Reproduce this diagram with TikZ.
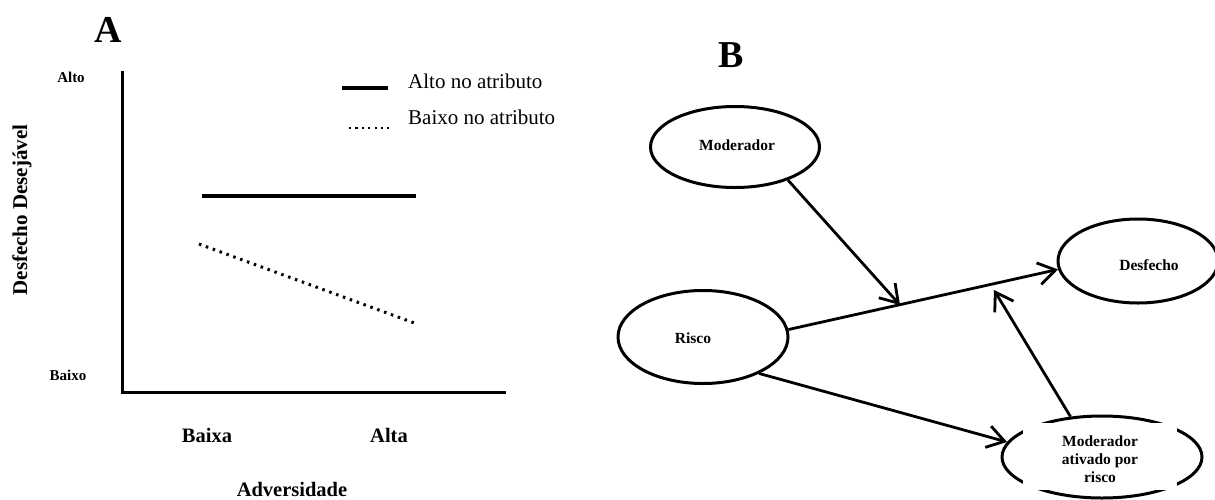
\documentclass[tikz,border=0pt]{standalone}
\usepackage{fontspec}
\setmainfont{Liberation Serif}
\usetikzlibrary{shapes.geometric,arrows.meta}
\begin{document}
\begin{tikzpicture}[x=1pt,y=-1pt,
  title/.style={font=\bfseries\fontsize{38}{40}\selectfont, inner sep=0, anchor=base},
  small/.style={font=\bfseries\fontsize{15}{18}\selectfont, inner sep=0, anchor=base},
  axlbl/.style={font=\bfseries\fontsize{20.5}{24}\selectfont, inner sep=0, anchor=base},
  legtxt/.style={font=\fontsize{21}{24}\selectfont, inner sep=0, anchor=base west},
  axisline/.style={line width=3pt},
  solidser/.style={line width=4pt},
  dotser/.style={line width=3pt, dash pattern=on 2.5pt off 4.8pt},
  oval/.style={ellipse, draw, line width=3pt, inner sep=0},
  ntxt/.style={font=\bfseries\fontsize{15.5}{18}\selectfont, inner sep=0, anchor=base},
  arr/.style={line width=2.8pt, -{Straight Barb[length=17pt,width=22pt,line width=2.8pt]}}
]
\useasboundingbox (0,0) rectangle (1215,499);
% ---------- Panel A ----------
\node[title] (tA) at (108,42) {A};
\coordinate (ytop) at (122,71);
\coordinate (orig) at (122,392);
\coordinate (xend) at (506,392);
\draw[axisline] (ytop) -- (orig) -- (xend);
\node[small] (alto) at (71,82) {Alto};
\node[small] (baixo) at (68,380) {Baixo};
\node[font=\bfseries\fontsize{21}{24}\selectfont, rotate=90, inner sep=0] (ylab) at (22,210) {Desfecho Desejável};
\node[axlbl] (baixa) at (207,442) {Baixa};
\node[axlbl] (alta) at (389,442) {Alta};
\node[axlbl] (adv) at (292,496) {Adversidade};
% series
\coordinate (s1a) at (202,196);
\coordinate (s1b) at (416,196);
\draw[solidser] (s1a) -- (s1b);
\coordinate (s2a) at (199,244);
\coordinate (s2b) at (417,324);
\draw[dotser] (s2a) -- (s2b);
% legend
\coordinate (l1a) at (342,88);
\coordinate (l1b) at (388,88);
\draw[solidser] (l1a) -- (l1b);
\node[legtxt] (leg1) at (408,88) {Alto no atributo};
\coordinate (l2a) at (349,128);
\coordinate (l2b) at (389,128);
\draw[line width=2.5pt, dash pattern=on 2.2pt off 4.2pt] (l2a) -- (l2b);
\node[legtxt] (leg2) at (408,124) {Baixo no atributo};
% ---------- Panel B ----------
\node[title] (tB) at (731,67) {B};
\node[oval, minimum width=169pt, minimum height=81pt] (mod) at (735,147) {};
\node[ntxt] (modt) at (737,150) {Moderador};
\node[oval, minimum width=170pt, minimum height=93pt] (risco) at (703,337) {};
\node[ntxt] (riscot) at (693,343) {Risco};
\node[oval, minimum width=160pt, minimum height=84pt] (desf) at (1138,261) {};
\node[ntxt] (desft) at (1149,270) {Desfecho};
\node[oval, minimum width=200pt, minimum height=82pt] (mar) at (1102,457) {};
\fill[white] (1023,423) rectangle (1177,490);
\begin{scope}
  \clip (1023,423) rectangle (1177,486);
  \node[ntxt, align=center, anchor=north, font=\bfseries\fontsize{15.5}{18}\selectfont] (mart) at (1100,436) {Moderador\\ativado por\\risco};
\end{scope}
% connectors
\coordinate (m1) at (900,305);
\coordinate (m2) at (994,290);
\draw[arr] (risco.5) -- (desf.186);
\draw[arr] (mod.-32) -- (m1);
\draw[arr] (mar.128) -- (m2);
\draw[arr] (risco.-33) -- (mar.171);
\end{tikzpicture}
\end{document}
